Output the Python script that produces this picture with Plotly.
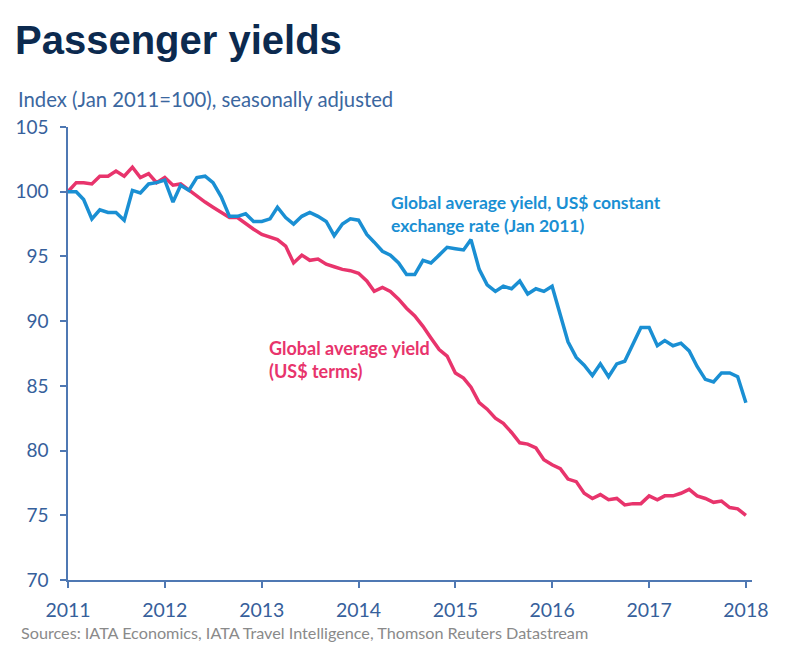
import plotly.graph_objects as go
import pandas as pd

months = pd.date_range("2011-01-01", "2018-01-01", freq="MS")

yield_constant_fx = [
    100.0, 100.0, 99.4, 97.9, 98.6, 98.4, 98.4, 97.8, 100.1, 99.9, 100.6, 100.7,
    100.9, 99.2, 100.5, 100.1, 101.1, 101.2, 100.7, 99.6, 98.1, 98.1, 98.3, 97.7,
    97.7, 97.9, 98.8, 98.0, 97.5, 98.1, 98.4, 98.1, 97.7, 96.6, 97.5, 97.9,
    97.8, 96.7, 96.1, 95.4, 95.1, 94.5, 93.6, 93.6, 94.7, 94.5, 95.1, 95.7,
    95.6, 95.5, 96.3, 94.0, 92.8, 92.3, 92.7, 92.5, 93.1, 92.1, 92.5, 92.3,
    92.7, 90.4, 88.4, 87.2, 86.6, 85.8, 86.7, 85.7, 86.7, 86.9, 88.3, 89.5,
    89.5, 88.1, 88.5, 88.1, 88.3, 87.7, 86.5, 85.5, 85.3, 86.0, 86.0, 85.7,
    83.7,
]

yield_usd = [
    100.0, 100.7, 100.7, 100.6, 101.2, 101.2, 101.6, 101.2, 101.9, 101.1, 101.4, 100.7,
    101.1, 100.5, 100.6, 100.1, 99.7, 99.2, 98.8, 98.4, 98.0, 98.0, 97.5, 97.1,
    96.7, 96.5, 96.3, 95.8, 94.5, 95.1, 94.7, 94.8, 94.4, 94.2, 94.0, 93.9,
    93.7, 93.1, 92.3, 92.6, 92.3, 91.7, 91.0, 90.4, 89.6, 88.7, 87.8, 87.3,
    86.0, 85.6, 84.9, 83.7, 83.2, 82.5, 82.1, 81.4, 80.6, 80.5, 80.2, 79.3,
    78.9, 78.6, 77.8, 77.6, 76.7, 76.3, 76.6, 76.2, 76.3, 75.8, 75.9, 75.9,
    76.5, 76.2, 76.5, 76.5, 76.7, 77.0, 76.5, 76.3, 76.0, 76.1, 75.6, 75.5,
    75.0,
]

year_ticks = [f"{y}-01-01" for y in range(2011, 2019)]
year_labels = [str(y) for y in range(2011, 2019)]
y_ticks = [70, 75, 80, 85, 90, 95, 100, 105]

BLUE = "#1a8fd3"
RED = "#e8346c"
AXIS = "#4f78b3"
TICKTXT = "#36609b"

fig = go.Figure()
fig.add_trace(go.Scatter(x=months, y=yield_usd, mode="lines",
                         line=dict(color=RED, width=3.5), showlegend=False))
fig.add_trace(go.Scatter(x=months, y=yield_constant_fx, mode="lines",
                         line=dict(color=BLUE, width=3.5), showlegend=False))

fig.update_layout(
    width=800, height=669,
    margin=dict(l=68, r=48, t=127, b=89),
    paper_bgcolor="white", plot_bgcolor="white",
    font=dict(family="Lato, Calibri, sans-serif", color=TICKTXT),
    xaxis=dict(
        range=["2011-01-01", "2018-01-24"],
        tickmode="array", tickvals=year_ticks, ticktext=year_labels,
        showgrid=False, zeroline=False,
        showline=True, linecolor=AXIS, linewidth=1.5,
        ticks="outside", ticklen=6, tickcolor=AXIS, tickwidth=1.5,
        tickfont=dict(size=19.5, color=TICKTXT), ticklabelstandoff=6,
    ),
    yaxis=dict(
        range=[70, 105], tickvals=y_ticks,
        showgrid=False, zeroline=False,
        showline=True, linecolor=AXIS, linewidth=1.5,
        ticks="outside", ticklen=6, tickcolor=AXIS, tickwidth=1.5,
        tickfont=dict(size=19, color=TICKTXT), ticklabelstandoff=8,
    ),
    annotations=[
        dict(text="Passenger yields", xref="paper", yref="paper",
             x=(13-68)/684, y=(580-40)/453, xanchor="left", yanchor="middle",
             showarrow=False,
             font=dict(family="Liberation Sans, Arial", size=40, color="#0c2a4f", weight="bold")),
        dict(text="Index (Jan 2011=100), seasonally adjusted", xref="paper", yref="paper",
             x=(16-68)/684, y=(580-99)/453, xanchor="left", yanchor="middle",
             showarrow=False,
             font=dict(family="Lato, Calibri, sans-serif", size=20.3, color="#3b679f")),
        dict(text="Sources: IATA Economics, IATA Travel Intelligence, Thomson Reuters Datastream",
             xref="paper", yref="paper",
             x=(19-68)/684, y=(580-632)/453, xanchor="left", yanchor="middle",
             showarrow=False,
             font=dict(family="Lato, Calibri, sans-serif", size=16.2, color="#8a8a8a")),
        dict(text="Global average yield, US$ constant<br>exchange rate (Jan 2011)",
             xref="paper", yref="paper",
             x=(389-68)/684, y=(580-214)/453, xanchor="left", yanchor="middle", align="left",
             showarrow=False,
             font=dict(family="Lato, Calibri, sans-serif", size=17.5, color=BLUE, weight="bold")),
        dict(text="Global average yield<br>(US$ terms)",
             xref="paper", yref="paper",
             x=(267-68)/684, y=(580-359)/453, xanchor="left", yanchor="middle", align="left",
             showarrow=False,
             font=dict(family="Lato, Calibri, sans-serif", size=18, color=RED, weight="bold")),
    ],
)

fig.write_html("out.html")
